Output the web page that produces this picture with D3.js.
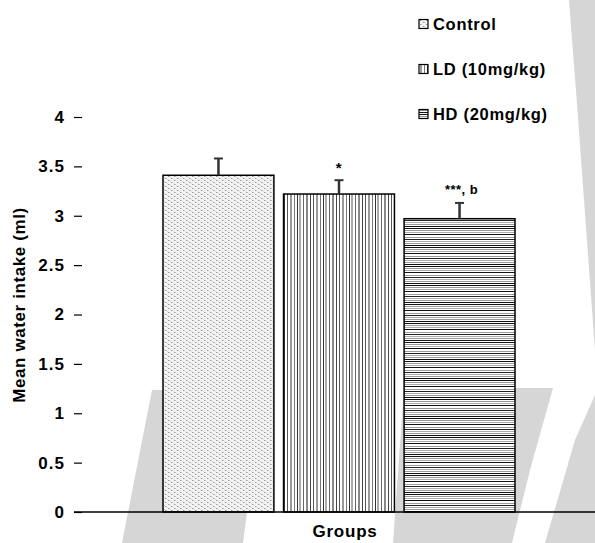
<!DOCTYPE html>
<html>
<head>
<meta charset="utf-8">
<style>
  body { margin: 0; background: #fff; }
  svg text { font-family: "Liberation Sans", Arial, Helvetica, sans-serif; font-weight: bold; fill: #000; }
  .tick text { font-size: 17px; letter-spacing: 1px; }
  .legend text { font-size: 16.5px; letter-spacing: 0.7px; }
</style>
</head>
<body>
<svg width="595" height="543"></svg>
<script src="https://cdn.jsdelivr.net/npm/d3@7"></script>
<script>
// data
let groups = ["Control", "LD (10mg/kg)", "HD (20mg/kg)"];
let means = [3.41, 3.22, 2.97];
let errors = [0.17, 0.14, 0.16];
let marks = ["", "*", "***, b"];
let yTicks = [0, 0.5, 1, 1.5, 2, 2.5, 3, 3.5, 4];

let svg = d3.select("svg");
let defs = svg.append("defs");

// bar fill patterns
let dots = defs.append("pattern").attr("id", "p0")
    .attr("patternUnits", "userSpaceOnUse").attr("width", 6).attr("height", 4);
dots.append("rect").attr("width", 6).attr("height", 4).attr("fill", "#f3f3f3");
[[0, 0, "#9a9a9a"], [1, 0, "#c8c8c8"], [3, 2, "#9a9a9a"], [4, 2, "#c8c8c8"], [2, 1, "#dcdcdc"], [5, 3, "#dcdcdc"]]
    .forEach(p => dots.append("rect").attr("x", p[0]).attr("y", p[1]).attr("width", 1).attr("height", 1).attr("fill", p[2]));

let vert = defs.append("pattern").attr("id", "p1")
    .attr("patternUnits", "userSpaceOnUse").attr("width", 26).attr("height", 10);
vert.append("rect").attr("width", 26).attr("height", 10).attr("fill", "#fff");
[[1, 1, "#555"], [4, 2, "#999"], [8, 1, "#777"], [11, 1, "#333"], [13, 2, "#aaa"], [17, 1, "#666"], [20, 2, "#888"], [24, 1, "#444"]]
    .forEach(l => vert.append("rect").attr("x", l[0]).attr("y", 0).attr("width", l[1]).attr("height", 10).attr("fill", l[2]));

let horiz = defs.append("pattern").attr("id", "p2")
    .attr("patternUnits", "userSpaceOnUse").attr("width", 10).attr("height", 19);
horiz.append("rect").attr("width", 10).attr("height", 19).attr("fill", "#fff");
[[0, "#111"], [2, "#999"], [4, "#aaa"], [6, "#111"], [9, "#999"], [11, "#222"], [13, "#aaa"], [15, "#999"], [17, "#111"]]
    .forEach(l => horiz.append("rect").attr("x", 0).attr("y", l[0]).attr("width", 10).attr("height", 1).attr("fill", l[1]));

// faint grey watermark behind the chart
let wm = [
    [[152, 390], [270, 390], [247, 512], [243, 543], [122, 543]],
    [[404, 388], [553, 388], [530, 470], [512, 543], [393, 543]],
    [[595, 395], [595, 543], [545, 543], [575, 440]],
    [[569, 0], [595, 0], [595, 350], [577, 104]]
];
svg.selectAll(".wm").data(wm).join("path")
    .attr("d", d => "M" + d.join("L") + "Z")
    .attr("fill", "#d6d6d6");

let x = d3.scaleBand().domain(groups).range([163, 515]).paddingInner(0.08);
let y = d3.scaleLinear().domain([0, 4]).range([512, 117]);

// y axis: ticks only, no domain line
let yAxis = svg.append("g").attr("transform", "translate(82,0)")
    .call(d3.axisLeft(y).tickValues(yTicks).tickSize(8).tickPadding(9).tickFormat(d3.format("~g")));
yAxis.select(".domain").remove();
yAxis.selectAll(".tick line").attr("stroke", "#000").attr("stroke-width", 1.2);

let rows = groups.map((g, i) => ({ g: g, m: means[i], e: errors[i], s: marks[i], i: i }));

svg.selectAll(".bar").data(rows).join("rect")
    .attr("x", d => x(d.g))
    .attr("y", d => y(d.m))
    .attr("width", x.bandwidth())
    .attr("height", d => y(0) - y(d.m))
    .attr("fill", d => "url(#p" + d.i + ")")
    .attr("stroke", "#000").attr("stroke-width", 1.5);

// upper error bars
let eb = svg.selectAll(".err").data(rows).join("g");
eb.append("line")
    .attr("x1", d => x(d.g) + x.bandwidth() / 2).attr("x2", d => x(d.g) + x.bandwidth() / 2)
    .attr("y1", d => y(d.m)).attr("y2", d => y(d.m + d.e))
    .attr("stroke", "#333").attr("stroke-width", 2.5);
eb.append("line")
    .attr("x1", d => x(d.g) + x.bandwidth() / 2 - 4.5).attr("x2", d => x(d.g) + x.bandwidth() / 2 + 4.5)
    .attr("y1", d => y(d.m + d.e)).attr("y2", d => y(d.m + d.e))
    .attr("stroke", "#333").attr("stroke-width", 2);

// significance marks
svg.selectAll(".mark").data(rows).join("text")
    .attr("x", d => x(d.g) + x.bandwidth() / 2 + (d.i === 2 ? 2 : 0))
    .attr("y", d => y(d.m + d.e) - (d.i === 1 ? 7 : 9))
    .attr("text-anchor", "middle")
    .style("font-size", d => d.i === 1 ? "15px" : "13px")
    .style("letter-spacing", "0.5px")
    .text(d => d.s);

// baseline
svg.append("line").attr("x1", 74).attr("x2", 595).attr("y1", y(0)).attr("y2", y(0))
    .attr("stroke", "#000").attr("stroke-width", 1.6);

// axis titles
svg.append("text").attr("transform", "translate(25,305) rotate(-90)")
    .attr("text-anchor", "middle").style("font-size", "17px").style("letter-spacing", "0.6px")
    .text("Mean water intake (ml)");
svg.append("text").attr("x", 345).attr("y", 537)
    .attr("text-anchor", "middle").style("font-size", "17px").style("letter-spacing", "0.8px")
    .text("Groups");

// legend
let leg = svg.append("g").attr("class", "legend");
let ly = d3.scalePoint().domain(groups).range([24, 114]);
leg.selectAll("rect").data(rows).join("rect")
    .attr("x", 419).attr("y", d => ly(d.g) - 4.5)
    .attr("width", 9).attr("height", 9)
    .attr("fill", d => "url(#p" + d.i + ")")
    .attr("stroke", "#000").attr("stroke-width", 1.2);
leg.selectAll("text").data(rows).join("text")
    .attr("x", 433).attr("y", d => ly(d.g) + 6)
    .text(d => d.g);
</script>
</body>
</html>
